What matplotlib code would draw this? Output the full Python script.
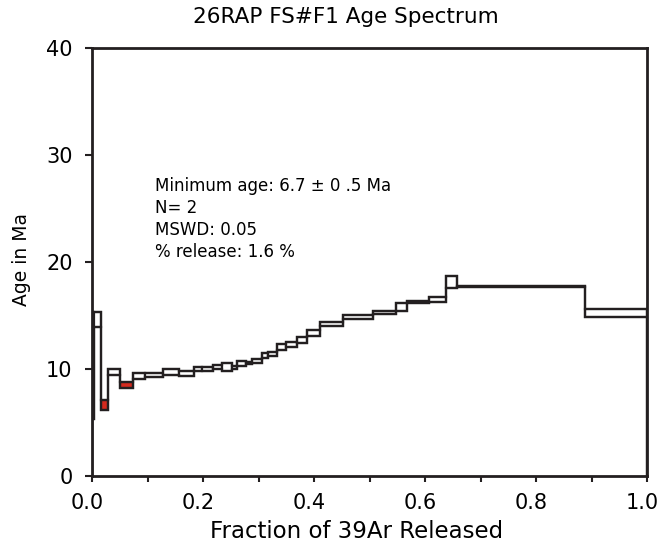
import numpy as np
import matplotlib
matplotlib.use("Agg")
import matplotlib.pyplot as plt
from matplotlib.transforms import ScaledTranslation

plt.rcParams['font.family'] = ['DejaVu Sans']

# 段階加熱のステップ境界 (39Ar 放出率)
edges = [0.0, 0.004, 0.016, 0.029, 0.050, 0.074, 0.095, 0.128, 0.156, 0.183,
         0.198, 0.218, 0.234, 0.252, 0.262, 0.277, 0.288, 0.306, 0.318, 0.334,
         0.350, 0.369, 0.388, 0.411, 0.453, 0.507, 0.548, 0.567, 0.608, 0.638,
         0.657, 0.888, 1.0]
# 年代の上限・下限 (Ma)
age_hi = [15.3, 15.3, 7.07, 9.97, 8.81, 9.6, 9.6, 10.0, 9.8, 10.15, 10.2,
          10.35, 10.56, 10.28, 10.78, 10.7, 10.9, 11.47, 11.6, 12.34, 12.5,
          12.96, 13.67, 14.36, 15.05, 15.45, 16.2, 16.36, 16.76, 18.7, 17.8,
          15.58]
age_lo = [5.3, 13.95, 6.2, 9.47, 8.19, 9.04, 9.28, 9.44, 9.35, 9.78, 9.8,
          9.97, 9.84, 9.97, 10.31, 10.47, 10.53, 11.0, 11.2, 11.78, 12.08,
          12.4, 13.05, 14.0, 14.64, 15.1, 15.42, 16.14, 16.3, 17.6, 17.7,
          14.89]
# 最小年代に使ったステップ
min_steps = [2, 4]

info_lines = ["Minimum age: 6.7 \u00b1 0 .5 Ma", "N= 2", "MSWD: 0.05",
              "% release: 1.6 %"]

fig = plt.figure(figsize=(6.65, 5.48), dpi=100)
ax = fig.add_axes([92 / 665, 1 - 476 / 548, 555 / 665, 428 / 548])

edges_a = np.array(edges)
hi = np.array(age_hi)
lo = np.array(age_lo)
colors = ["#d42a1e" if i in min_steps else "white" for i in range(len(hi))]

# ステップの箱
ax.bar(edges_a[:-1], hi - lo, width=np.diff(edges_a), bottom=lo,
       align="edge", color=colors, edgecolor="#231f20", linewidth=1.6,
       zorder=3)
# 上下の階段線
ax.stairs(hi, edges_a, color="#231f20", linewidth=1.6, zorder=4)
ax.stairs(lo, edges_a, color="#231f20", linewidth=1.6, zorder=4)

ax.set_xlim(0, 1)
ax.set_ylim(0, 40)
ax.set_xticks(np.arange(0, 1.01, 0.2))
ax.set_xticks(np.arange(0, 1.01, 0.1), minor=True)
ax.set_xticklabels(["0.0", "0.2", "0.4", "0.6", "0.8", "1.0"])
ax.set_yticks([0, 10, 20, 30, 40])

for s in ax.spines.values():
    s.set_linewidth(2)
    s.set_color("#231f20")
ax.tick_params(axis="x", which="both", direction="out", length=4, width=1.5,
               labelsize=15, pad=8, color="#231f20")
ax.tick_params(axis="y", direction="out", length=5, width=1.5, labelsize=15,
               pad=9, color="#231f20")

# 目盛りラベルを少し左へ
shift = ScaledTranslation(-5 / 100, 0, fig.dpi_scale_trans)
for lab in ax.get_xticklabels():
    lab.set_transform(lab.get_transform() + shift)

# 情報テキスト
for i, t in enumerate(info_lines):
    fig.text(155 / 665, 1 - (186 + 22 * i) / 548, t, fontsize=12,
             va="center", ha="left")

fig.text(346 / 665, 1 - 17 / 548, "26RAP FS#F1 Age Spectrum", fontsize=15.5,
         ha="center", va="center")
fig.text(357 / 665, 1 - 531 / 548, "Fraction of 39Ar Released", fontsize=16.5,
         ha="center", va="center")
fig.text(22 / 665, 1 - 260 / 548, "Age in Ma", fontsize=13.5, rotation=90,
         ha="center", va="center")

fig.savefig("out.png", dpi=100)
